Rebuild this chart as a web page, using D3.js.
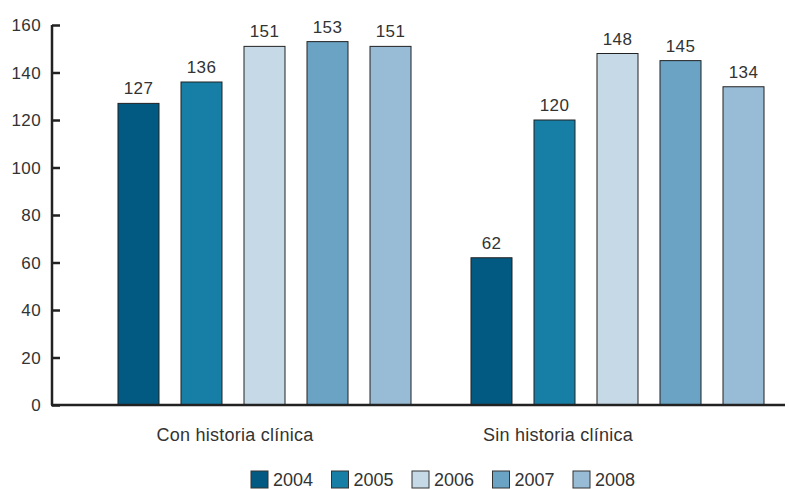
<!DOCTYPE html>
<html>
<head>
<meta charset="utf-8">
<script src="https://cdn.jsdelivr.net/npm/d3@7"></script>
<style>
	body { margin: 0; background: #fff; }
	text { font-family: "Liberation Sans", Arial, sans-serif; fill: #333; }
</style>
</head>
<body>
<div id="chart"></div>
<script>
// Chart data
const categories = ['Con historia clínica', 'Sin historia clínica'];
const years = ['2004', '2005', '2006', '2007', '2008'];
const values2004 = [127, 62];
const values2005 = [136, 120];
const values2006 = [151, 148];
const values2007 = [153, 145];
const values2008 = [151, 134];
const yTicks = [0, 20, 40, 60, 80, 100, 120, 140, 160];
const colors = ['#025a82', '#177ea6', '#c6d9e7', '#6aa3c4', '#98bbd6'];

const series = [values2004, values2005, values2006, values2007, values2008];

const width = 789, height = 489;

const svg = d3.select('#chart').append('svg')
	.attr('width', width)
	.attr('height', height);

const y = d3.scaleLinear()
	.domain([0, 160])
	.range([405, 25]);

// outer band per category, inner band per year
const x0 = d3.scaleBand()
	.domain(categories)
	.range([88, 794]);

const x1 = d3.scaleBand()
	.domain(years)
	.range([0, x0.bandwidth()])
	.paddingInner(22 / 63)
	.paddingOuter(0.476);

// category labels sit a little left of the bar groups in the original
const xLabel = d3.scalePoint()
	.domain(categories)
	.range([235, 558]);

const groups = svg.append('g')
	.selectAll('g')
	.data(categories)
	.enter()
		.append('g')
		.attr('transform', d => `translate(${x0(d)},0)`);

groups.selectAll('rect')
	.data((d, i) => years.map((yr, j) => ({ year: yr, value: series[j][i], idx: j })))
	.enter()
		.append('rect')
		.attr('x', d => x1(d.year))
		.attr('y', d => y(d.value))
		.attr('width', x1.bandwidth())
		.attr('height', d => y(0) - y(d.value))
		.style('fill', d => colors[d.idx])
		.style('stroke', '#222')
		.style('stroke-width', 1);

groups.selectAll('text.val')
	.data((d, i) => years.map((yr, j) => ({ year: yr, value: series[j][i] })))
	.enter()
		.append('text')
		.classed('val', true)
		.attr('x', d => x1(d.year) + x1.bandwidth() / 2)
		.attr('y', d => y(d.value) - 9)
		.attr('text-anchor', 'middle')
		.style('font-size', '17px')
		.style('letter-spacing', '0.4px')
		.text(d => d.value);

// y axis
const yAxis = svg.append('g')
	.attr('transform', 'translate(52,0)')
	.call(d3.axisRight(y).tickValues(yTicks).tickSize(8).tickFormat(d3.format('d')));

yAxis.select('.domain')
	.attr('d', `M0,${y(160)}V${y(0)}`)
	.style('stroke', '#222')
	.style('stroke-width', 2.5);
yAxis.selectAll('.tick line')
	.style('stroke', '#222')
	.style('stroke-width', 2.5);
yAxis.selectAll('.tick text')
	.attr('x', -11)
	.attr('dy', '0.35em')
	.attr('text-anchor', 'end')
	.style('font-size', '17px')
	.style('letter-spacing', '0.4px')
	.style('font-family', '"Liberation Sans", Arial, sans-serif')
	.style('fill', '#333');

// baseline
svg.append('line')
	.attr('x1', 51)
	.attr('x2', 785)
	.attr('y1', y(0))
	.attr('y2', y(0))
	.style('stroke', '#222')
	.style('stroke-width', 2.5);

svg.append('g')
	.selectAll('text')
	.data(categories)
	.enter()
		.append('text')
		.attr('x', d => xLabel(d))
		.attr('y', 441)
		.attr('text-anchor', 'middle')
		.style('font-size', '18px')
		.style('letter-spacing', '0.25px')
		.text(d => d);

// legend
const legendX = d3.scalePoint()
	.domain(years)
	.range([251, 573]);

const legend = svg.append('g')
	.selectAll('g')
	.data(years)
	.enter()
		.append('g')
		.attr('transform', d => `translate(${legendX(d)},471)`);

legend.append('rect')
	.attr('width', 17)
	.attr('height', 17)
	.style('fill', (d, i) => colors[i])
	.style('stroke', '#333')
	.style('stroke-width', 1);

legend.append('text')
	.attr('x', 22)
	.attr('y', 15)
	.style('font-size', '18px')
	.text(d => d);
</script>
</body>
</html>
